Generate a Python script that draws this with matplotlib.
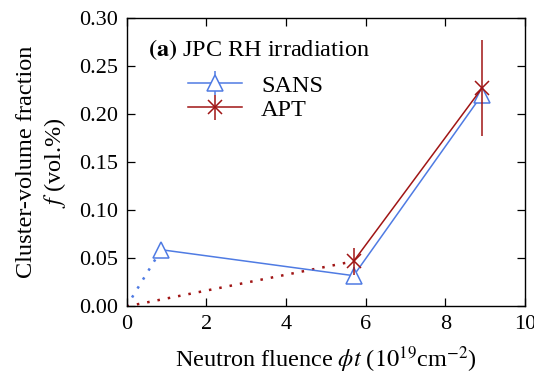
import matplotlib
matplotlib.use("Agg")
import matplotlib.pyplot as plt

# cluster-volume fraction vs neutron fluence, JPC RH irradiation
sans_fluence = [0.87, 5.70, 8.92]
sans_frac = [0.059, 0.032, 0.220]
sans_err = [0.0, 0.009, 0.004]

apt_fluence = [5.70, 8.92]
apt_frac = [0.047, 0.227]
apt_err = [0.014, 0.050]

origin = [0.0, 0.0]

BLUE = "#4f7be3"
RED = "#a01515"

plt.rcParams["font.family"] = ["Liberation Serif", "DejaVu Serif"]
plt.rcParams["mathtext.fontset"] = "stix"
plt.rcParams["font.size"] = 17.5

fig = plt.figure(figsize=(5.34, 3.76), dpi=100)
ax = fig.add_axes([0.237, 0.185, 0.746, 0.767])

# dotted extrapolation back to zero fluence
ax.plot([origin[0], sans_fluence[0]], [origin[1], sans_frac[0]],
        color=BLUE, lw=1.8, dashes=(1, 3.2))
ax.plot([origin[0], apt_fluence[0]], [origin[1], apt_frac[0]],
        color=RED, lw=1.8, dashes=(1, 3.2))

ax.errorbar(sans_fluence, sans_frac, yerr=sans_err, color=BLUE, lw=1.1,
            marker="^", ms=11, mfc="white", mec=BLUE, mew=1.1,
            capsize=0, label="SANS", zorder=3)
ax.errorbar(apt_fluence, apt_frac, yerr=apt_err, color=RED, lw=1.1,
            marker="x", ms=10, mew=1.1, capsize=0, label="APT", zorder=4)

ax.set_xlim(0, 10)
ax.set_ylim(0, 0.30)
ax.set_xticks([0, 2, 4, 6, 8, 10])
ax.set_yticks([0.0, 0.05, 0.10, 0.15, 0.20, 0.25, 0.30])
ax.yaxis.set_major_formatter(matplotlib.ticker.FormatStrFormatter("%.2f"))
ax.tick_params(direction="in", length=6, width=0.9, top=True, right=True,
               pad=6, labelsize=16)
for s in ax.spines.values():
    s.set_linewidth(1.0)

ax.set_xlabel(r"Neutron fluence $\phi t$ ($10^{19}$cm$^{-2}$)", labelpad=8)
ax.set_ylabel("Cluster-volume fraction\n$f$ (vol.%)", labelpad=8, linespacing=1.25)

ax.text(0.055, 0.89, r"$\mathbf{(a)}$ JPC RH irradiation", transform=ax.transAxes,
        ha="left", va="center")
ax.legend(loc="upper left", bbox_to_anchor=(0.1, 0.88), frameon=False,
          handlelength=2.2, handletextpad=0.8, labelspacing=0.1)

fig.savefig("out.png", dpi=100)
